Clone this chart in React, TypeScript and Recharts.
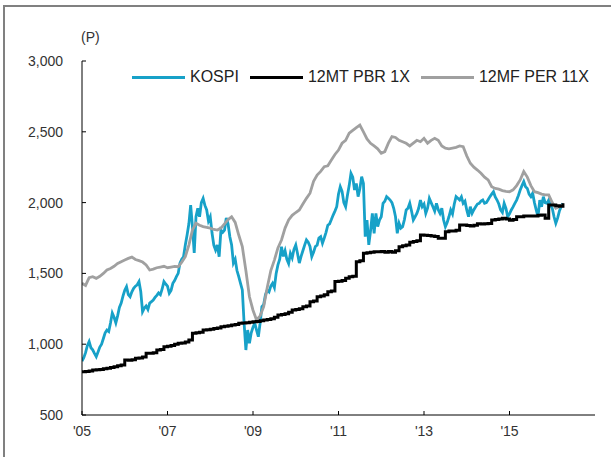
import { LineChart, Line, XAxis, YAxis } from 'recharts';

// KOSPI, semi-monthly from Jan 2005 to Apr 2016
const kospi = [
  // 2005
  880, 905, 940, 990, 1018, 975, 960, 935, 912, 945, 980, 1000,
  1040, 1080, 1100, 1090, 1150, 1220, 1190, 1150, 1200, 1260, 1290, 1340,
  // 2006
  1380, 1406, 1350, 1335, 1370, 1395, 1410, 1420, 1442, 1370, 1230, 1255,
  1270, 1245, 1290, 1300, 1312, 1330, 1345, 1362, 1350, 1390, 1442, 1425,
  // 2007
  1410, 1360, 1380, 1430, 1450, 1477, 1500, 1573, 1600, 1618, 1700, 1771,
  1850, 1983, 1830, 1644, 1900, 1960, 1900, 2000, 2030, 1980, 1948, 1870,
  // 2008
  1900, 1785, 1700, 1665, 1700, 1618, 1806, 1790, 1806, 1891, 1850, 1759,
  1700, 1573, 1600, 1520, 1477, 1430, 1383, 1150, 959, 1100, 1006, 1080,
  // 2009
  1120, 1148, 1100, 1053, 1150, 1265, 1280, 1350, 1383, 1370, 1410, 1430,
  1400, 1500, 1560, 1600, 1689, 1620, 1660, 1600, 1570, 1642, 1610, 1670,
  // 2010
  1701, 1640, 1573, 1620, 1660, 1700, 1736, 1720, 1690, 1618, 1650, 1690,
  1700, 1750, 1760, 1713, 1750, 1790, 1840, 1850, 1880, 1912, 1940, 1971,
  // 2011
  2060, 2112, 2080, 2000, 1971, 2050, 2120, 2207, 2180, 2089, 2136, 2042,
  2100, 2183, 2136, 1759, 1877, 1701, 1800, 1924, 1783, 1924, 1830, 1877,
  // 2012
  1900, 1995, 2010, 2042, 2030, 2018, 2000, 1960, 1900, 1783, 1854, 1820,
  1830, 1880, 1948, 1960, 1995, 1940, 1877, 1900, 1924, 1960, 2018, 1971,
  // 2013
  1990, 1924, 1960, 2030, 2000, 1971, 1940, 1995, 1950, 1924, 1960, 1877,
  1830, 1860, 1900, 1948, 1920, 1990, 2042, 2030, 2018, 2040, 1995, 2010,
  // 2014
  1948, 1900, 1971, 1924, 1950, 1971, 1990, 1995, 2010, 2018, 1995, 2000,
  2020, 2042, 2060, 2077, 2040, 2018, 1990, 1948, 1930, 1995, 1960, 1900,
  // 2015
  1920, 1948, 1970, 1995, 2018, 2050, 2089, 2120, 2148, 2112, 2100, 2060,
  2042, 2066, 2000, 1948, 1900, 2018, 1970, 2042, 2000, 1995, 2018, 1980,
  // 2016
  1960, 1900, 1854, 1890, 1940, 1971, 1995,
];

// 12MT PBR 1X, monthly from Jan 2005 to Apr 2016
const pbr = [
  806, 808, 810, 818, 820, 822, 826, 830, 835, 840, 848, 853,
  888, 886, 890, 900, 902, 910, 936, 936, 940, 959, 962, 982,
  985, 990, 1000, 1006, 1008, 1015, 1030, 1077, 1080, 1085, 1100, 1102,
  1105, 1110, 1115, 1124, 1126, 1130, 1135, 1140, 1148, 1150, 1152, 1155,
  1158, 1160, 1165, 1171, 1175, 1180, 1190, 1206, 1210, 1215, 1225, 1242,
  1245, 1250, 1265, 1270, 1300, 1305, 1335, 1340, 1350, 1371, 1375, 1442,
  1445, 1450, 1465, 1477, 1480, 1583, 1590, 1642, 1645, 1650, 1653, 1653,
  1655, 1650, 1655, 1650, 1660, 1689, 1695, 1700, 1720, 1725, 1730, 1771,
  1770, 1768, 1765, 1760, 1748, 1748, 1795, 1800, 1800, 1805, 1842, 1842,
  1838, 1835, 1840, 1850, 1848, 1850, 1852, 1877, 1880, 1885, 1889, 1885,
  1875, 1880, 1900, 1900, 1906, 1905, 1906, 1906, 1910, 1913, 1889, 1983,
  1983, 1978, 1975, 1995,
];

// 12MF PER 11X, monthly from Jan 2005 to Apr 2016
const per = [
  1430, 1415, 1470, 1477, 1465, 1480, 1500, 1524, 1535, 1550, 1570, 1583,
  1595, 1606, 1615, 1598, 1590, 1580, 1560, 1524, 1530, 1540, 1545, 1550,
  1540, 1545, 1550, 1547, 1580, 1618, 1700, 1806, 1854, 1840, 1830, 1825,
  1820, 1810, 1806, 1820, 1850, 1880, 1900, 1860, 1771, 1689, 1520, 1335,
  1240, 1171, 1200, 1265, 1400, 1520, 1594, 1680, 1736, 1820, 1877, 1910,
  1930, 1948, 1990, 2030, 2066, 2150, 2195, 2220, 2254, 2260, 2300, 2340,
  2371, 2419, 2440, 2490, 2510, 2530, 2548, 2500, 2450, 2419, 2400, 2380,
  2348, 2360, 2420, 2466, 2460, 2440, 2430, 2419, 2400, 2420, 2440, 2430,
  2454, 2420, 2440, 2454, 2440, 2400, 2384, 2380, 2385, 2390, 2400, 2395,
  2330, 2278, 2250, 2230, 2207, 2180, 2160, 2112, 2100, 2095, 2085, 2080,
  2077, 2090, 2120, 2160, 2219, 2180, 2120, 2077, 2070, 2060, 2055, 2054,
  2000, 1960, 1970, 1983,
];

const yTicks = [500, 1000, 1500, 2000, 2500, 3000];
const xTicks = [2005, 2007, 2009, 2011, 2013, 2015];

const kospiData = kospi.map((v, i) => ({ t: 2005 + i / 24, v }));
const pbrData = pbr.map((v, i) => ({ t: 2005 + i / 12, v }));
const perData = per.map((v, i) => ({ t: 2005 + i / 12, v }));

const BLUE = '#17a1c8';
const GRAY = '#a0a0a0';
const FONT = 'Arial, "Liberation Sans", sans-serif';

const legendItems = [
  { name: 'KOSPI', color: BLUE },
  { name: '12MT PBR 1X', color: '#000' },
  { name: '12MF PER 11X', color: GRAY },
];

function ChartLegend() {
  return (
    <div
      style={{
        position: 'absolute',
        left: 132,
        top: 68,
        display: 'flex',
        alignItems: 'center',
        fontFamily: FONT,
        fontSize: 16,
        color: '#222',
        whiteSpace: 'nowrap',
      }}
    >
      {legendItems.map((item) => (
        <div key={item.name} style={{ display: 'flex', alignItems: 'center', marginRight: 11 }}>
          <span style={{ display: 'inline-block', width: 53, height: 3, background: item.color, marginRight: 5 }} />
          <span>{item.name}</span>
        </div>
      ))}
    </div>
  );
}

export default function App() {
  return (
    <div style={{ position: 'absolute', left: 0, top: 0, width: 611, height: 457, background: '#fff', overflow: 'hidden' }}>
      <div
        style={{
          position: 'absolute',
          left: 3,
          top: 5,
          width: 620,
          height: 470,
          borderLeft: '2px solid #808080',
          borderTop: '2px solid #808080',
        }}
      />
      <div style={{ position: 'absolute', left: 81, top: 29, fontFamily: FONT, fontSize: 14, color: '#333' }}>(P)</div>
      <LineChart width={611} height={457} margin={{ top: 61, right: 16, bottom: 12, left: 0 }}>
        <XAxis
          dataKey="t"
          type="number"
          domain={[2005, 2017]}
          ticks={xTicks}
          tickFormatter={(v) => "'" + String(v).slice(2)}
          allowDataOverflow
          height={30}
          stroke="#000"
          tickSize={-4}
          tickMargin={15}
          tick={{ fill: '#333', fontSize: 14, fontFamily: FONT }}
        />
        <YAxis
          type="number"
          domain={[500, 3000]}
          ticks={yTicks}
          tickFormatter={(v) => v.toLocaleString('en-US')}
          width={82}
          stroke="#000"
          tickSize={-4}
          tickMargin={23}
          tick={{ fill: '#333', fontSize: 14, fontFamily: FONT }}
        />
        <Line data={kospiData} dataKey="v" name="KOSPI" type="linear" stroke={BLUE} strokeWidth={2.8} dot={false} isAnimationActive={false} />
        <Line data={perData} dataKey="v" name="12MF PER 11X" type="linear" stroke={GRAY} strokeWidth={2.8} dot={false} isAnimationActive={false} />
        <Line data={pbrData} dataKey="v" name="12MT PBR 1X" type="stepAfter" stroke="#000" strokeWidth={3} dot={false} isAnimationActive={false} />
      </LineChart>
      <ChartLegend />
    </div>
  );
}
